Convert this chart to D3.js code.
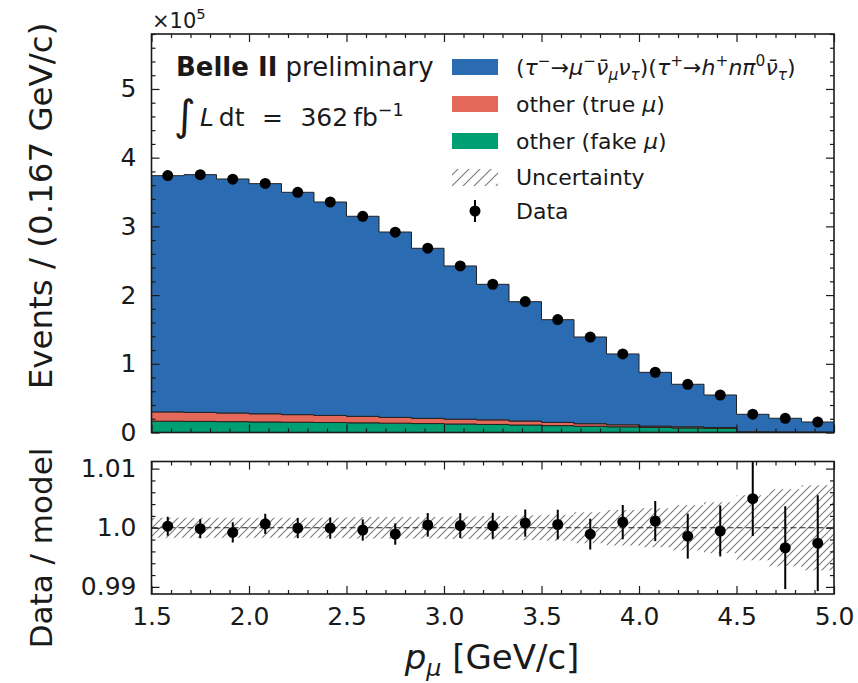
<!DOCTYPE html>
<html>
<head>
<meta charset="utf-8">
<script src="https://cdn.jsdelivr.net/npm/d3@7"></script>
<style>
  body { margin: 0; background: #fff; }
  svg { display: block; }
  text { font-family: "DejaVu Sans", sans-serif; fill: #1a1a1a; }
</style>
</head>
<body>
<svg id="chart" width="858" height="683"></svg>
<script>
// Bin edges of the muon momentum histogram [GeV/c]
const binEdges = [1.5, 1.6667, 1.8333, 2.0, 2.1667, 2.3333, 2.5, 2.6667, 2.8333, 3.0, 3.1667,
                  3.3333, 3.5, 3.6667, 3.8333, 4.0, 4.1667, 4.3333, 4.5, 4.6667, 4.8333, 5.0];

// Stacked model components, events per bin in units of 1e5
const fakeMu = [0.165, 0.162, 0.158, 0.154, 0.150, 0.146, 0.141, 0.136, 0.130, 0.124, 0.117,
                0.109, 0.100, 0.091, 0.083, 0.075, 0.067, 0.060, 0.004, 0.003, 0.002];
const trueMu = [0.135, 0.131, 0.126, 0.118, 0.110, 0.102, 0.094, 0.084, 0.076, 0.070, 0.067,
                0.058, 0.047, 0.037, 0.029, 0.018, 0.016, 0.013, 0.006, 0.005, 0.004];
const signal = [3.438, 3.460, 3.406, 3.350, 3.236, 3.107, 2.912, 2.698, 2.475, 2.230, 1.973,
                1.737, 1.495, 1.262, 1.031, 0.783, 0.619, 0.473, 0.255, 0.199, 0.147];

// Observed events per bin (1e5)
const data = [3.7390, 3.7524, 3.6871, 3.6244, 3.4958, 3.3548, 3.1458, 2.9149, 2.6823, 2.4249, 2.1577,
              1.9055, 1.6429, 1.3885, 1.1441, 0.8770, 0.7010, 0.5457, 0.2663, 0.2063, 0.1526];
// Relative statistical uncertainty of the data
const ratioErr = [0.0016, 0.0016, 0.0017, 0.0017, 0.0017, 0.0018, 0.0018, 0.0018, 0.0020, 0.0021, 0.0022,
                  0.0023, 0.0025, 0.0026, 0.0029, 0.0034, 0.0038, 0.0043, 0.0063, 0.0070, 0.0081];
// Relative model uncertainty (hatched band)
const modelUnc = [0.0017, 0.0017, 0.0017, 0.0017, 0.0017, 0.0017, 0.0018, 0.0018, 0.0018, 0.0019, 0.0020,
                  0.0021, 0.0022, 0.0026, 0.0030, 0.0033, 0.0038, 0.0043, 0.0055, 0.0065, 0.0072];

// Axis ticks
const xTicks = [1.5, 2.0, 2.5, 3.0, 3.5, 4.0, 4.5, 5.0];
const xTickLabels = ["1.5", "2.0", "2.5", "3.0", "3.5", "4.0", "4.5", "5.0"];
const yTicksTop = [0, 1, 2, 3, 4, 5];
const yTicksRatio = [0.99, 1.0, 1.01];
const yRatioLabels = ["0.99", "1.0", "1.01"];

const colors = { signal: "#2a6bb2", trueMu: "#e4695b", fakeMu: "#009e73" };
const ink = "#1a1a1a";

const svg = d3.select("#chart");
svg.append("rect").attr("width", 858).attr("height", 683).attr("fill", "#fff");

const L = 151.5, R = 834;
const mainP = { t: 34, b: 432.5 }, ratP = { t: 461.5, b: 594 };

const x = d3.scaleLinear().domain([1.5, 5.0]).range([L, R]);
const yTop = d3.scaleLinear().domain([0, 5.8]).range([mainP.b, mainP.t]);
const yRat = d3.scaleLinear().domain([0.9888, 1.0112]).range([ratP.b, ratP.t]);

const defs = svg.append("defs");
function hatchPattern(id, s) {
  defs.append("pattern").attr("id", id)
    .attr("patternUnits", "userSpaceOnUse").attr("width", s).attr("height", s)
    .append("path").attr("d", `M-2,2 L2,-2 M0,${s} L${s},0 M${s - 2},${s + 2} L${s + 2},${s - 2}`)
    .attr("stroke", "#7a7a7a").attr("stroke-width", 1.1);
}
hatchPattern("hatch", 8);
hatchPattern("hatchLegend", 11);
defs.append("clipPath").attr("id", "clipTop").append("rect")
  .attr("x", L).attr("y", mainP.t).attr("width", R - L).attr("height", mainP.b - mainP.t);
defs.append("clipPath").attr("id", "clipRat").append("rect")
  .attr("x", L).attr("y", ratP.t).attr("width", R - L).attr("height", ratP.b - ratP.t);

// ---- stacked histogram ----
const rows = signal.map((s, i) => ({ fakeMu: fakeMu[i], trueMu: trueMu[i], signal: s }));
const stack = d3.stack().keys(["fakeMu", "trueMu", "signal"])(rows);

function stepPath(lo, hi, ys) {
  let p = "";
  for (let i = 0; i < hi.length; i++) {
    const x0 = x(binEdges[i]), x1 = x(binEdges[i + 1]);
    p += (i === 0 ? "M" : "L") + x0 + "," + ys(hi[i]) + "L" + x1 + "," + ys(hi[i]);
  }
  for (let i = lo.length - 1; i >= 0; i--) {
    const x0 = x(binEdges[i]), x1 = x(binEdges[i + 1]);
    p += "L" + x1 + "," + ys(lo[i]) + "L" + x0 + "," + ys(lo[i]);
  }
  return p + "Z";
}

const gHist = svg.append("g").attr("clip-path", "url(#clipTop)");
stack.forEach(layer => {
  gHist.append("path")
    .attr("d", stepPath(layer.map(d => d[0]), layer.map(d => d[1]), yTop))
    .attr("fill", colors[layer.key])
    .attr("stroke", "#222").attr("stroke-width", 1).attr("stroke-linejoin", "miter");
});

const centers = binEdges.slice(0, -1).map((e, i) => (e + binEdges[i + 1]) / 2);
const model = rows.map(r => r.fakeMu + r.trueMu + r.signal);

// data points on the top panel
const gData = svg.append("g").attr("clip-path", "url(#clipTop)");
data.forEach((d, i) => {
  const e = d * ratioErr[i];
  gData.append("line").attr("x1", x(centers[i])).attr("x2", x(centers[i]))
    .attr("y1", yTop(d - e)).attr("y2", yTop(d + e)).attr("stroke", "#000").attr("stroke-width", 2);
  gData.append("circle").attr("cx", x(centers[i])).attr("cy", yTop(d)).attr("r", 5.5).attr("fill", "#000");
});

// ---- ratio panel ----
const gRat = svg.append("g").attr("clip-path", "url(#clipRat)");
let band = "";
modelUnc.forEach((u, i) => {
  band += (i === 0 ? "M" : "L") + x(binEdges[i]) + "," + yRat(1 + u) + "L" + x(binEdges[i + 1]) + "," + yRat(1 + u);
});
for (let i = modelUnc.length - 1; i >= 0; i--) {
  band += "L" + x(binEdges[i + 1]) + "," + yRat(1 - modelUnc[i]) + "L" + x(binEdges[i]) + "," + yRat(1 - modelUnc[i]);
}
gRat.append("path").attr("d", band + "Z").attr("fill", "url(#hatch)").attr("stroke", "none");
gRat.append("line").attr("x1", L).attr("x2", R).attr("y1", yRat(1)).attr("y2", yRat(1))
  .attr("stroke", "#222").attr("stroke-width", 1.2).attr("stroke-dasharray", "6,3");
data.forEach((d, i) => {
  const r = d / model[i];
  gRat.append("line").attr("x1", x(centers[i])).attr("x2", x(centers[i]))
    .attr("y1", yRat(r - ratioErr[i])).attr("y2", yRat(r + ratioErr[i]))
    .attr("stroke", "#000").attr("stroke-width", 2);
  gRat.append("circle").attr("cx", x(centers[i])).attr("cy", yRat(r)).attr("r", 5.5).attr("fill", "#000");
});

// ---- axes: inward ticks on all four sides ----
const xMinor = d3.range(15, 51).map(v => v / 10).filter(v => !xTicks.some(t => Math.abs(t - v) < 1e-6));
const yTopMinor = d3.range(0, 30).map(v => v / 5).filter(v => v <= 5.8 && v % 1 !== 0);
const yRatMinor = d3.range(495, 506).map(v => v / 500).filter(v => !yTicksRatio.some(t => Math.abs(t - v) < 1e-6));

function axisSet(ys, panel, yMaj, yMin, yFmt, xLabels) {
  const tickStyle = g => { g.select(".domain").remove(); g.selectAll("line").attr("stroke", ink).attr("stroke-width", 1.2); };
  const txt = g => g.selectAll("text").attr("font-size", 25).attr("fill", ink)
    .attr("font-family", "DejaVu Sans");
  // bottom
  svg.append("g").attr("transform", `translate(0,${panel.b})`)
    .call(d3.axisBottom(x).tickValues(xTicks).tickSize(-8).tickPadding(13)
      .tickFormat(xLabels ? (d, i) => xTickLabels[i] : () => ""))
    .call(tickStyle).call(txt);
  svg.append("g").attr("transform", `translate(0,${panel.b})`)
    .call(d3.axisBottom(x).tickValues(xMinor).tickSize(-4).tickFormat(() => "")).call(tickStyle);
  // top
  svg.append("g").attr("transform", `translate(0,${panel.t})`)
    .call(d3.axisTop(x).tickValues(xTicks).tickSize(-8).tickFormat(() => "")).call(tickStyle);
  svg.append("g").attr("transform", `translate(0,${panel.t})`)
    .call(d3.axisTop(x).tickValues(xMinor).tickSize(-4).tickFormat(() => "")).call(tickStyle);
  // left
  svg.append("g").attr("transform", `translate(${L},0)`)
    .call(d3.axisLeft(ys).tickValues(yMaj).tickSize(-8).tickPadding(15).tickFormat(yFmt))
    .call(tickStyle).call(txt);
  svg.append("g").attr("transform", `translate(${L},0)`)
    .call(d3.axisLeft(ys).tickValues(yMin).tickSize(-4).tickFormat(() => "")).call(tickStyle);
  // right
  svg.append("g").attr("transform", `translate(${R},0)`)
    .call(d3.axisRight(ys).tickValues(yMaj).tickSize(-8).tickFormat(() => "")).call(tickStyle);
  svg.append("g").attr("transform", `translate(${R},0)`)
    .call(d3.axisRight(ys).tickValues(yMin).tickSize(-4).tickFormat(() => "")).call(tickStyle);
  // frame
  svg.append("rect").attr("x", L).attr("y", panel.t).attr("width", R - L).attr("height", panel.b - panel.t)
    .attr("fill", "none").attr("stroke", ink).attr("stroke-width", 1.6);
}
axisSet(yTop, mainP, yTicksTop, yTopMinor, d => String(d), false);
axisSet(yRat, ratP, yTicksRatio, yRatMinor, (d, i) => yRatioLabels[i], true);

// ---- rich text helper (sub/superscripts, italics) ----
function rich(sel, segs, fs) {
  let off = 0;
  segs.forEach(s => {
    const pos = s[2] || "";
    const target = pos === "sup" ? -0.42 * fs : pos === "sub" ? 0.22 * fs : 0;
    sel.append("tspan").text(s[0])
      .attr("dy", target - off)
      .attr("font-size", pos ? fs * 0.7 : fs)
      .attr("font-style", s[1] === "i" ? "italic" : "normal")
      .attr("font-weight", s[1] === "b" ? "bold" : "normal");
    off = target;
  });
}

// multiplier above the y axis
rich(svg.append("text").attr("x", 152).attr("y", 28), [["×10", "n"], ["5", "n", "sup"]], 21);

// axis titles
svg.append("text").attr("transform", "translate(52,206) rotate(-90)").attr("text-anchor", "middle")
  .attr("font-size", 32.5).text("Events / (0.167 GeV/c)");
svg.append("text").attr("transform", "translate(52,548) rotate(-90)").attr("text-anchor", "middle")
  .attr("font-size", 31).text("Data / model");
rich(svg.append("text").attr("x", 492).attr("y", 669).attr("text-anchor", "middle"),
  [["p", "i"], ["μ", "i", "sub"], [" [GeV/c]", "n"]], 34);

// experiment label
rich(svg.append("text").attr("x", 176).attr("y", 76), [["Belle II", "b"], [" preliminary", "n"]], 26);
const lumi = svg.append("text").attr("x", 174).attr("y", 126);
lumi.append("tspan").text("∫").attr("font-size", 42).attr("dy", 4);
lumi.append("tspan").text("L").attr("font-size", 25).attr("font-style", "italic").attr("dx", 4).attr("dy", -4);
lumi.append("tspan").text("\u2009dt\u2002\u2009=\u2002\u2009362\u2009fb").attr("font-size", 25);
lumi.append("tspan").text("−1").attr("font-size", 17.5).attr("dy", -10);

// ---- legend ----
const lx = 452, lw = 46, tx = 516, fsL = 22;
const legendRows = [67, 104, 141, 177, 211];
[["signal"], ["trueMu"], ["fakeMu"]].forEach((k, i) => {
  svg.append("rect").attr("x", lx).attr("y", legendRows[i] - 8).attr("width", lw).attr("height", 16)
    .attr("fill", colors[k[0]]);
});
svg.append("rect").attr("x", lx).attr("y", legendRows[3] - 8).attr("width", lw).attr("height", 17)
  .attr("fill", "url(#hatchLegend)");
svg.append("line").attr("x1", lx + lw / 2).attr("x2", lx + lw / 2)
  .attr("y1", legendRows[4] - 11).attr("y2", legendRows[4] + 11).attr("stroke", "#000").attr("stroke-width", 2);
svg.append("circle").attr("cx", lx + lw / 2).attr("cy", legendRows[4]).attr("r", 5.5).attr("fill", "#000");

const base = r => r + 0.36 * fsL;
rich(svg.append("text").attr("x", tx).attr("y", base(legendRows[0])),
  [["(", "n"], ["τ", "i"], ["−", "n", "sup"], ["→", "n"], ["μ", "i"], ["−", "n", "sup"],
   ["ν̄", "i"], ["μ", "i", "sub"], ["ν", "i"], ["τ", "i", "sub"], [")(", "n"],
   ["τ", "i"], ["+", "n", "sup"], ["→", "n"], ["h", "i"], ["+", "n", "sup"], ["n", "i"], ["π", "i"],
   ["0", "n", "sup"], ["ν̄", "i"], ["τ", "i", "sub"], [")", "n"]], fsL);
rich(svg.append("text").attr("x", tx).attr("y", base(legendRows[1])),
  [["other (true ", "n"], ["μ", "i"], [")", "n"]], fsL);
rich(svg.append("text").attr("x", tx).attr("y", base(legendRows[2])),
  [["other (fake ", "n"], ["μ", "i"], [")", "n"]], fsL);
svg.append("text").attr("x", tx).attr("y", base(legendRows[3])).attr("font-size", fsL).text("Uncertainty");
svg.append("text").attr("x", tx).attr("y", base(legendRows[4])).attr("font-size", fsL).text("Data");
</script>
</body>
</html>
